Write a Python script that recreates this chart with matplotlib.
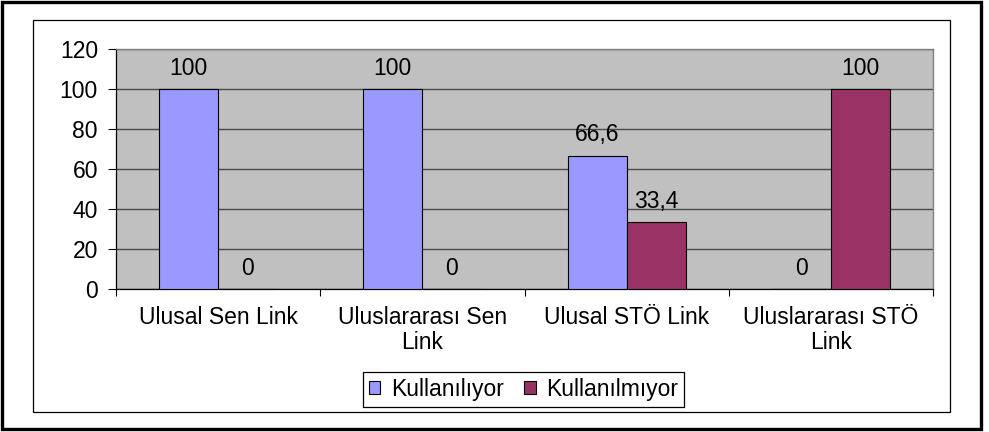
import matplotlib.pyplot as plt
from matplotlib.patches import Rectangle
import numpy as np

categories = ['Ulusal Sen Link', 'Uluslararası Sen\nLink', 'Ulusal STÖ Link', 'Uluslararası STÖ\nLink']
kullaniliyor = [100, 100, 66.6, 0]
kullanilmiyor = [0, 0, 33.4, 100]
series_names = ['Kullanılıyor', 'Kullanılmıyor']
yticks = [0, 20, 40, 60, 80, 100, 120]

plt.rcParams['font.family'] = ['Liberation Sans', 'DejaVu Sans']
plt.rcParams['font.size'] = 16.5

W, H = 989, 432
fig = plt.figure(figsize=(W / 100, H / 100), dpi=100)

# frames around the chart
fig.patches.append(Rectangle((2 / W, 1 - 429 / H), 979 / W, 427 / H, transform=fig.transFigure,
                             fill=False, edgecolor='black', linewidth=2.4))
fig.patches.append(Rectangle((33 / W, 1 - 412 / H), 917 / W, 392 / H, transform=fig.transFigure,
                             fill=False, edgecolor='black', linewidth=0.9))

ax = fig.add_axes([116 / W, 1 - 289 / H, (933 - 116) / W, (289 - 49) / H])
ax.set_facecolor('#C0C0C0')

x = np.arange(len(categories))
w = 0.289
b1 = ax.bar(x - w / 2, kullaniliyor, w, color='#9999FF', edgecolor='black', linewidth=0.8,
            label=series_names[0], zorder=3)
b2 = ax.bar(x + w / 2, kullanilmiyor, w, color='#993366', edgecolor='black', linewidth=0.8,
            label=series_names[1], zorder=3)

for bars, vals in ((b1, kullaniliyor), (b2, kullanilmiyor)):
    for rect, v in zip(bars, vals):
        txt = ('%g' % v).replace('.', ',')
        ax.annotate(txt, (rect.get_x() + rect.get_width() / 2, v), xytext=(0, 15),
                    textcoords='offset points', ha='center', va='center', zorder=4)

ax.set_xlim(-0.5, len(categories) - 0.5)
ax.set_ylim(0, 120)
ax.set_yticks(yticks)
ax.yaxis.grid(True, color='#4a4a4a', linewidth=1.0, zorder=1)
ax.set_axisbelow(True)

ax.set_xticks(x)
ax.set_xticklabels(categories, linespacing=1.15)
ax.set_xticks(np.arange(len(categories) + 1) - 0.5, minor=True)
ax.tick_params(axis='x', which='major', length=0, pad=12)
ax.tick_params(axis='x', which='minor', length=5, width=0.8)
ax.tick_params(axis='y', length=6, width=0.8, pad=7)

for s in ('top', 'right'):
    ax.spines[s].set_color('#808080')
    ax.spines[s].set_linewidth(1.0)
for s in ('left', 'bottom'):
    ax.spines[s].set_color('black')
    ax.spines[s].set_linewidth(0.9)

leg = fig.legend(loc='center', bbox_to_anchor=(523.5 / W, 1 - 389.5 / H), ncol=2,
                 frameon=True, fancybox=False, edgecolor='black', framealpha=1,
                 handlelength=0.5, handleheight=0.5, handletextpad=0.45, columnspacing=0.9,
                 borderpad=0.25, borderaxespad=0)
leg.get_frame().set_linewidth(0.9)

fig.savefig('out.png', dpi=100)
